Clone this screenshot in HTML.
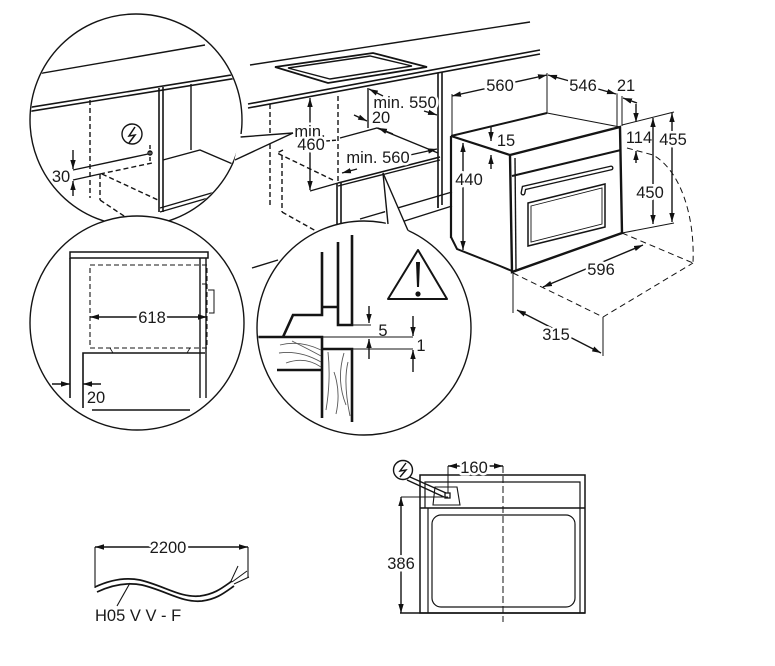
<!DOCTYPE html>
<html><head><meta charset="utf-8"><style>
html,body{margin:0;padding:0;background:#fff;}
svg{display:block;}
text{font-family:"Liberation Sans",Arial,sans-serif;font-size:16.5px;fill:#1a1a1a;stroke:none;}
text.h{stroke:#fff;stroke-width:5px;paint-order:stroke;stroke-linejoin:round;}
</style></head><body>
<svg width="775" height="666" viewBox="0 0 775 666" xmlns="http://www.w3.org/2000/svg">
<defs>
<marker id="a" viewBox="0 0 10 6" refX="10" refY="3" markerWidth="9" markerHeight="6" markerUnits="userSpaceOnUse" orient="auto-start-reverse"><path d="M0,0L10,3L0,6z" fill="#111" stroke="none"/></marker>
<clipPath id="c1"><circle cx="136" cy="120" r="105"/></clipPath>
<clipPath id="c2"><circle cx="137" cy="323" r="106"/></clipPath>
<clipPath id="c3"><circle cx="364" cy="328" r="106"/></clipPath>
</defs>

<g fill="none" stroke="#141414" stroke-width="1.4">
<!-- countertop -->
<line x1="250" y1="65" x2="530" y2="22"/>
<line x1="248" y1="104" x2="540" y2="50" stroke-width="1.6"/>
<line x1="248" y1="108" x2="540" y2="54" stroke-width="1.6"/>
<path d="M275,67 L373,53 L427,67 L328,83Z" stroke-width="1.8"/>
<path d="M288,68 L370,56 L412,66 L330,79Z" stroke-width="1.4"/>

<!-- cabinet -->
<line x1="338" y1="96" x2="338" y2="181" stroke-dasharray="5,3"/>
<line x1="337" y1="183" x2="337" y2="226" stroke-width="1.6"/>
<line x1="341" y1="182" x2="341" y2="226" stroke-width="1.6"/>
<line x1="368" y1="88" x2="368" y2="128"/>
<line x1="438" y1="73" x2="438" y2="208" stroke-width="1.6"/>
<line x1="442" y1="72" x2="442" y2="205" stroke-width="1.6"/>
<line x1="270" y1="104" x2="270" y2="205" stroke-dasharray="5,3"/>
<path d="M340,138 L377,128 L438,153"/>
<line x1="338" y1="183" x2="440" y2="157" stroke-width="1.6"/>
<line x1="338" y1="186" x2="440" y2="160"/>
<path d="M283,150 L277,153 L333,180" stroke-dasharray="5,3"/>
<line x1="282" y1="155" x2="282" y2="212" stroke-dasharray="5,3"/>
<line x1="282" y1="212" x2="316" y2="231" stroke-dasharray="5,3"/>
<line x1="360" y1="219" x2="452" y2="192"/>
<line x1="395" y1="224" x2="452" y2="206"/>
<line x1="438" y1="195" x2="438" y2="208"/>
<line x1="252" y1="268" x2="278" y2="260"/>

<!-- 460 -->
<line x1="310" y1="98" x2="310" y2="190" marker-start="url(#a)" marker-end="url(#a)"/>
<line x1="310" y1="191" x2="338" y2="183"/>
<line x1="326" y1="141" x2="338" y2="140" stroke-dasharray="4,2"/>
<text class="h" x="310" y="137" text-anchor="middle">min.</text>
<text class="h" x="311" y="150" text-anchor="middle">460</text>

<!-- min 550 / 20 / min 560 -->
<line x1="383" y1="96" x2="369" y2="89" marker-end="url(#a)"/>
<line x1="424" y1="111" x2="437" y2="115" marker-end="url(#a)"/>
<line x1="354" y1="115" x2="367" y2="121" marker-end="url(#a)"/>
<line x1="393" y1="134" x2="378" y2="128" marker-end="url(#a)"/>
<line x1="357" y1="169" x2="342" y2="173" marker-end="url(#a)"/>
<line x1="410" y1="155" x2="437" y2="149" marker-end="url(#a)"/>
<text class="h" x="405" y="108" text-anchor="middle">min. 550</text>
<text class="h" x="381" y="123" text-anchor="middle">20</text>
<text class="h" x="378" y="163" text-anchor="middle">min. 560</text>

<!-- oven -->
<line x1="451" y1="136" x2="451" y2="238" stroke-width="2.2"/>
<line x1="451" y1="136" x2="547" y2="113" stroke-width="2"/>
<line x1="547" y1="113" x2="620" y2="127" stroke-width="1.1"/>
<line x1="451" y1="136" x2="510" y2="155" stroke-width="2.2"/>
<path d="M510,155 L620,127 L622,233 L512,272 Z" stroke-width="2.4"/>
<line x1="515" y1="158" x2="516" y2="270"/>
<line x1="512" y1="176" x2="621" y2="150" stroke-width="2"/>
<path d="M523,193 L524,188 L611,168" stroke-width="5" stroke-linecap="round"/>
<path d="M523,193 L524,188 L611,168" stroke="#fff" stroke-width="2.3" stroke-linecap="round"/>
<path d="M528,203 L605,184 L605,227 L528,246 Z" stroke-width="1.5"/>
<path d="M531,206 L602,188 L602,224 L531,242 Z" stroke-width="0.9"/>
<path d="M451,237 L457,249 L500,266 L512,271" stroke-width="2"/>

<!-- oven dims -->
<line x1="452" y1="94" x2="452" y2="135" stroke-width="1"/>
<line x1="547" y1="73" x2="547" y2="113" stroke-width="1"/>
<line x1="452" y1="96" x2="547" y2="75" marker-start="url(#a)" marker-end="url(#a)"/>
<text class="h" x="500" y="91" text-anchor="middle">560</text>
<line x1="548" y1="75" x2="616" y2="94" marker-start="url(#a)" marker-end="url(#a)"/>
<line x1="617" y1="92" x2="617" y2="126" stroke-width="1"/>
<text class="h" x="583" y="91" text-anchor="middle">546</text>
<line x1="622" y1="96" x2="622" y2="126" stroke-width="1"/>
<line x1="637" y1="103" x2="623" y2="98" marker-end="url(#a)"/>
<text class="h" x="626" y="91" text-anchor="middle">21</text>
<line x1="622" y1="125" x2="674" y2="112" stroke-width="1"/>
<line x1="622" y1="233" x2="674" y2="223" stroke-width="1"/>
<line x1="636" y1="104" x2="636" y2="122" marker-end="url(#a)"/>
<line x1="636" y1="163" x2="636" y2="151" marker-end="url(#a)"/>
<text class="h" x="639" y="143" text-anchor="middle">114</text>
<line x1="672" y1="113" x2="672" y2="222" marker-start="url(#a)" marker-end="url(#a)"/>
<text class="h" x="673" y="145" text-anchor="middle">455</text>
<line x1="653" y1="118" x2="653" y2="224" marker-start="url(#a)" marker-end="url(#a)"/>
<text class="h" x="650" y="198" text-anchor="middle">450</text>
<line x1="463" y1="143" x2="463" y2="250" marker-start="url(#a)" marker-end="url(#a)"/>
<text class="h" x="469" y="185" text-anchor="middle">440</text>
<line x1="491" y1="127" x2="491" y2="141" marker-end="url(#a)"/>
<line x1="491" y1="169" x2="491" y2="155" marker-end="url(#a)"/>
<text class="h" x="506" y="146" text-anchor="middle">15</text>
<path d="M513,273 L603,317 L693,263" stroke-dasharray="6,4" stroke-width="1"/>
<line x1="622" y1="233" x2="693" y2="263" stroke-dasharray="6,4" stroke-width="1"/>
<path d="M627,148 L653,155 C680,170 695,215 693,263" stroke-dasharray="6,4" stroke-width="1"/>
<line x1="543" y1="287" x2="643" y2="245" marker-start="url(#a)" marker-end="url(#a)"/>
<text class="h" x="601" y="275" text-anchor="middle">596</text>
<line x1="513" y1="273" x2="513" y2="313" stroke-width="1"/>
<line x1="603" y1="317" x2="603" y2="356" stroke-width="1"/>
<line x1="517" y1="310" x2="601" y2="353" marker-start="url(#a)" marker-end="url(#a)"/>
<text class="h" x="556" y="340" text-anchor="middle">315</text>

<!-- upper-left circle -->
<circle cx="136" cy="120" r="106" fill="#fff" stroke="none"/>
<g clip-path="url(#c1)">
<line x1="20" y1="77" x2="205" y2="45"/>
<line x1="20" y1="109" x2="250" y2="72" stroke-width="1.6"/>
<line x1="20" y1="113" x2="250" y2="76" stroke-width="1.6"/>
<line x1="159" y1="88" x2="159" y2="212" stroke-width="1.6"/>
<line x1="163" y1="87" x2="163" y2="212" stroke-width="1.6"/>
<line x1="191" y1="84" x2="191" y2="150"/>
<path d="M163,160 L200,150 L235,165"/>
<line x1="160" y1="208" x2="215" y2="192" stroke-width="1.4"/>
<line x1="160" y1="212" x2="215" y2="196" stroke-width="1.4"/>
<line x1="90" y1="100" x2="90" y2="198" stroke-dasharray="5,3"/>
<line x1="150" y1="145" x2="150" y2="161" stroke-dasharray="4,2"/>
<circle cx="150" cy="153" r="2"/>
<line x1="73" y1="170" x2="148" y2="154"/>
<line x1="73" y1="180" x2="100" y2="174"/>
<line x1="100" y1="174" x2="152" y2="163" stroke-dasharray="5,3"/>
<line x1="100" y1="174" x2="100" y2="200" stroke-dasharray="5,3"/>
<line x1="100" y1="200" x2="127" y2="218" stroke-dasharray="5,3"/>
<line x1="102" y1="174" x2="158" y2="200" stroke-dasharray="5,3"/>
<line x1="73" y1="150" x2="73" y2="169" marker-end="url(#a)"/>
<line x1="73" y1="196" x2="73" y2="181" marker-end="url(#a)"/>
<circle cx="132" cy="134" r="10"/>
<path d="M135,127 L129,136 L135,135 L129,143" stroke-width="1.5"/>
</g>
<text x="61" y="182" text-anchor="middle">30</text>
<circle cx="136" cy="120" r="106" stroke-width="1.4"/>
<path d="M240,134 L293,133 L234,162 Z" fill="#fff" stroke="none"/>
<line x1="240.6" y1="137" x2="293" y2="133" stroke-width="1.4"/>
<line x1="235" y1="160" x2="293" y2="133" stroke-width="1.4"/>

<!-- lower-left circle -->
<circle cx="137" cy="323" r="107" fill="#fff" stroke="none"/>
<g clip-path="url(#c2)">
<rect x="70" y="252" width="138" height="6" stroke-width="1.5"/>
<line x1="70" y1="258" x2="70" y2="398" stroke-width="1.6"/>
<line x1="200" y1="258" x2="200" y2="398" stroke-width="1.4"/>
<line x1="206" y1="258" x2="206" y2="398" stroke-width="1.4"/>
<rect x="90" y="265" width="117" height="83" stroke-dasharray="5,3" stroke-width="1.1"/>
<path d="M208,290 L214,290 L214,313 L209,313" stroke-width="1"/>
<line x1="202" y1="284" x2="207" y2="284" stroke-width="1"/>
<path d="M83,408 L83,353 L205,353" stroke-width="1.6"/>
<line x1="92" y1="410" x2="190" y2="410" stroke-width="1.6"/>
<line x1="110" y1="348" x2="113" y2="353" stroke-width="0.8"/>
<line x1="187" y1="353" x2="190" y2="348" stroke-width="0.8"/>
<line x1="52" y1="384" x2="70" y2="384" marker-end="url(#a)"/>
<line x1="101" y1="384" x2="83" y2="384" marker-end="url(#a)"/>
<line x1="90" y1="317" x2="207" y2="317" marker-start="url(#a)" marker-end="url(#a)"/>
</g>
<text class="h" x="152" y="323" text-anchor="middle">618</text>
<text x="96" y="403" text-anchor="middle">20</text>
<circle cx="137" cy="323" r="107" stroke-width="1.4"/>

<!-- middle circle -->
<circle cx="364" cy="328" r="107" fill="#fff" stroke="none"/>
<g clip-path="url(#c3)">
<g stroke-width="2.6" stroke-linejoin="miter">
<path d="M322,252 L322,315 L293,315 L283,337"/>
<path d="M322,307 L338,307"/>
<path d="M338,242 L338,325 L352,325 L352,235"/>
<path d="M255,337 L322,337 L322,418"/>
<path d="M322,349 L352,349 L352,422"/>
<path d="M277,370 L322,370"/>
</g>
<line x1="322" y1="337" x2="413" y2="337" stroke-width="1"/>
<line x1="352" y1="349" x2="413" y2="349" stroke-width="1"/>
<line x1="352" y1="325" x2="371" y2="325" stroke-width="1"/>
<line x1="369" y1="306" x2="369" y2="323" marker-end="url(#a)"/>
<line x1="369" y1="359" x2="369" y2="339" marker-end="url(#a)"/>
<line x1="413" y1="316" x2="413" y2="336" marker-end="url(#a)"/>
<line x1="413" y1="372" x2="413" y2="350" marker-end="url(#a)"/>
<g stroke="#555" stroke-width="0.9">
<path d="M280,345 Q300,340 321,350"/>
<path d="M279,353 Q300,350 321,362"/>
<path d="M286,363 Q305,356 321,367"/>
<path d="M292,341 Q310,350 321,356"/>
<path d="M328,352 Q331,380 326,410"/>
<path d="M344,353 Q336,380 346,405"/>
<path d="M334,372 Q341,392 336,414"/>
<path d="M348,362 Q343,382 350,416"/>
</g>
<path d="M418,250 L447,299 L388,299 Z" stroke-width="2" stroke-linejoin="round"/>
<path d="M416,262 L420,262 L419,287 L417,287 Z" fill="#111" stroke="none"/>
<circle cx="418" cy="294" r="2.6" fill="#111" stroke="none"/>
</g>
<text x="383" y="336" text-anchor="middle">5</text>
<text x="421" y="351" text-anchor="middle">1</text>
<circle cx="364" cy="328" r="107" stroke-width="1.4"/>
<path d="M386,227 L383,173 L410,235 Z" fill="#fff" stroke="none"/>
<line x1="388" y1="224" x2="383" y2="173" stroke-width="1.4"/>
<line x1="408" y1="230.5" x2="383" y2="173" stroke-width="1.4"/>

<!-- bottom right front view -->
<rect x="420" y="475" width="165" height="138" stroke-width="1.5"/>
<path d="M425,508 L425,482 L580,482 L580,508" stroke-width="1.2"/>
<line x1="420" y1="508" x2="585" y2="508" stroke-width="1.4"/>
<line x1="428" y1="508" x2="428" y2="613" stroke-width="1.2"/>
<line x1="580" y1="508" x2="580" y2="613" stroke-width="1.2"/>
<rect x="432" y="515" width="143" height="92" rx="9" stroke-width="1.2"/>
<line x1="400" y1="613" x2="585" y2="613" stroke-width="1.4"/>
<path d="M435,487 L457,487 L460,505 L433,505 Z" fill="#fff" stroke-width="1.1"/>
<rect x="445" y="493" width="5" height="5" stroke-width="1.3"/>
<circle cx="403" cy="470" r="9.5" fill="#fff"/>
<path d="M406,463 L400,471 L406,470 L400,477" stroke-width="1.4"/>
<line x1="410" y1="477" x2="446" y2="493"/>
<line x1="407" y1="480" x2="444" y2="497"/>
<line x1="448" y1="466" x2="448" y2="493" stroke-width="1"/>
<line x1="503" y1="466" x2="503" y2="622" stroke-dasharray="7,3" stroke-width="1"/>
<line x1="448" y1="466" x2="503" y2="466" marker-start="url(#a)" marker-end="url(#a)"/>
<text class="h" x="474" y="473" text-anchor="middle">160</text>
<line x1="401" y1="497" x2="448" y2="497" stroke-width="1"/>
<line x1="401" y1="497" x2="401" y2="613" marker-start="url(#a)" marker-end="url(#a)"/>
<text class="h" x="401" y="569" text-anchor="middle">386</text>

<!-- cable -->
<line x1="95" y1="547" x2="95" y2="588" stroke-width="1.1"/>
<line x1="248" y1="547" x2="248" y2="578" stroke-width="1.1"/>
<line x1="95" y1="547" x2="248" y2="547" marker-start="url(#a)" marker-end="url(#a)"/>
<text class="h" x="168" y="553" text-anchor="middle">2200</text>
<path d="M95,587 C110,580 125,577 140,580 C165,586 180,598 200,596 C215,594 222,588 232,581" stroke-width="1.7"/>
<path d="M97,592 C112,585 127,582 142,585 C167,591 182,603 202,601 C217,599 224,593 234,586" stroke-width="1.7"/>
<line x1="232" y1="582" x2="247" y2="571" stroke-width="1"/>
<line x1="234" y1="584" x2="249" y2="577" stroke-width="1"/>
<line x1="231" y1="581" x2="238" y2="566" stroke-width="1"/>
<line x1="130" y1="583" x2="117" y2="606" stroke-width="1.1"/>
<text x="95" y="621">H05 V V - F</text>
</g>
</svg>
</body></html>
